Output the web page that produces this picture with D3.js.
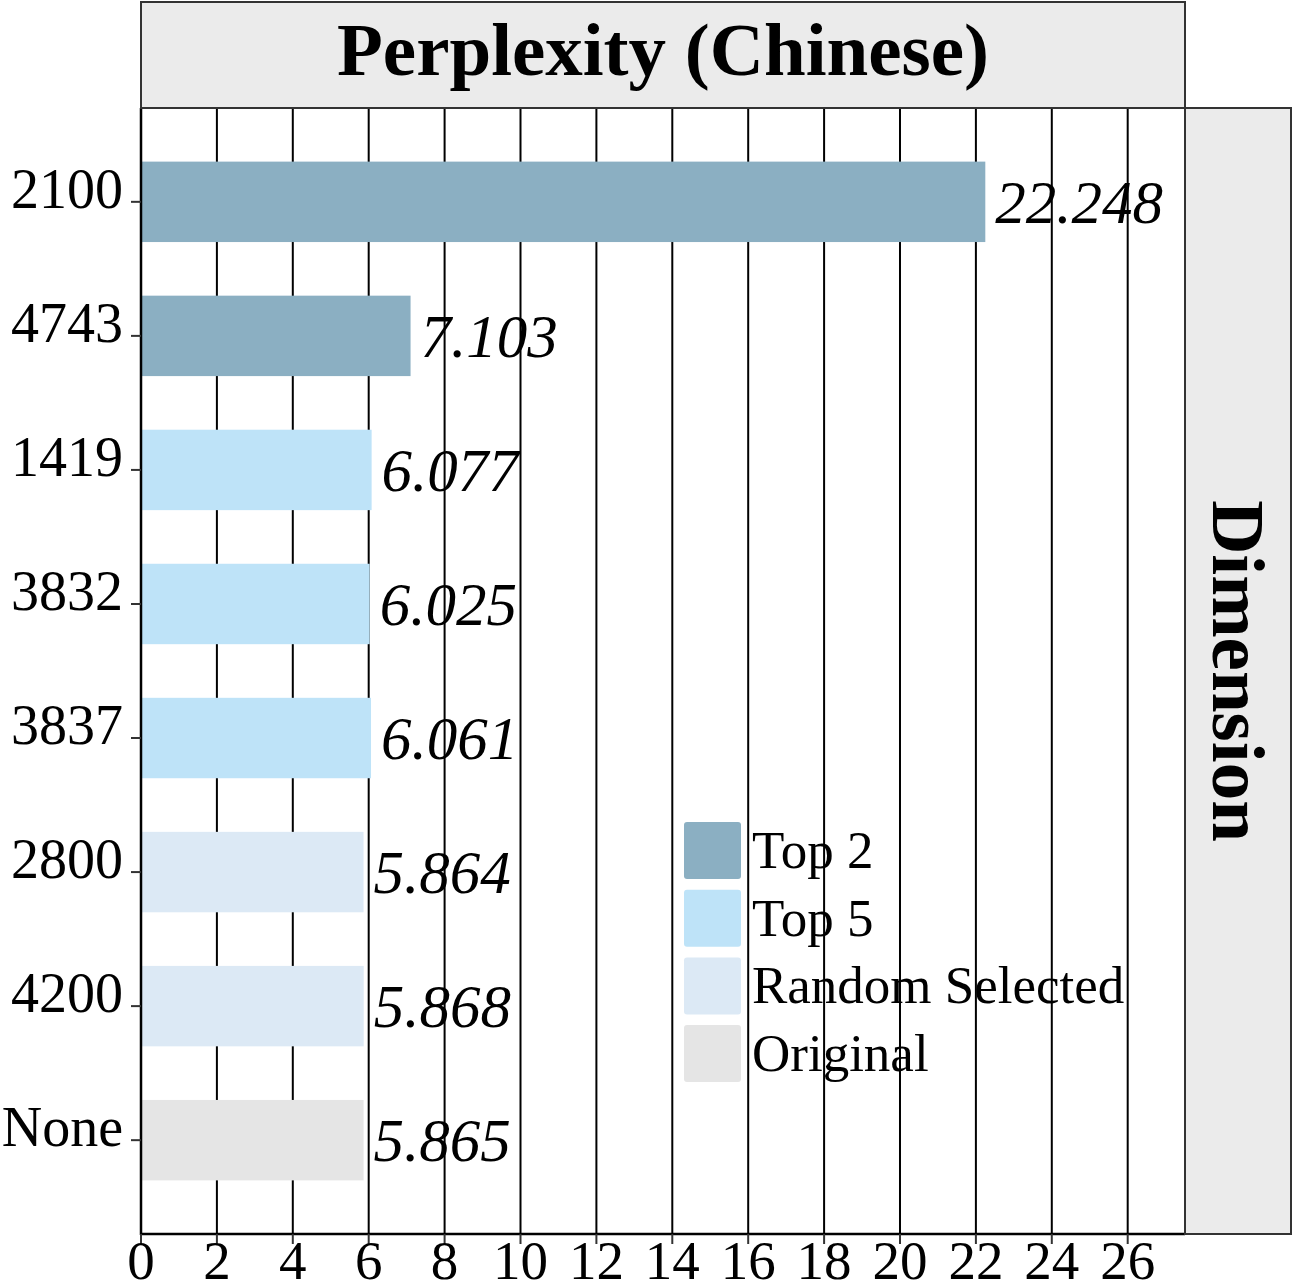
<!DOCTYPE html>
<html>
<head>
<meta charset="utf-8">
<script src="https://cdn.jsdelivr.net/npm/d3@7"></script>
<style>
  html, body { margin: 0; padding: 0; background: #fff; }
  svg { display: block; }
  text { font-family: "Liberation Serif", "Times New Roman", serif; }
</style>
</head>
<body>
<svg id="chart" width="1293" height="1281"></svg>
<script>
// ---- data ----
const categories = ["2100", "4743", "1419", "3832", "3837", "2800", "4200", "None"];
const values = [22.248, 7.103, 6.077, 6.025, 6.061, 5.864, 5.868, 5.865];
const groups = ["Top 2", "Top 2", "Top 5", "Top 5", "Top 5", "Random Selected", "Random Selected", "Original"];
const legendLabels = ["Top 2", "Top 5", "Random Selected", "Original"];
const legendColors = ["#8BAFC2", "#BEE3F8", "#DCE9F5", "#E5E5E5"];
const xTicks = [0, 2, 4, 6, 8, 10, 12, 14, 16, 18, 20, 22, 24, 26];
const title = "Perplexity (Chinese)";
const stripRight = "Dimension";

// ---- layout ----
const svg = d3.select("#chart");
const P = { left: 141, right: 1185, top: 108, bottom: 1234 };

const x = d3.scaleLinear().domain([0, 27.51]).range([P.left, P.right]);
const yIdx = d3.scaleLinear().domain([-0.7, categories.length - 1 + 0.7]).range([P.top, P.bottom]);
const bandH = (yIdx(1) - yIdx(0)) * 0.6;
const color = d3.scaleOrdinal().domain(legendLabels).range(legendColors);

// gridlines
svg.append("g").selectAll("line").data(xTicks.slice(1)).join("line")
  .attr("x1", d => x(d)).attr("x2", d => x(d))
  .attr("y1", P.top).attr("y2", P.bottom)
  .attr("stroke", "#000").attr("stroke-width", 2);

// bars
svg.append("g").selectAll("rect").data(categories).join("rect")
  .attr("x", x(0))
  .attr("y", (d, i) => yIdx(i) - bandH / 2)
  .attr("width", (d, i) => x(values[i]) - x(0))
  .attr("height", bandH)
  .attr("fill", (d, i) => color(groups[i]));

// value labels
svg.append("g").selectAll("text").data(categories).join("text")
  .attr("x", (d, i) => x(values[i]) + 10)
  .attr("y", (d, i) => yIdx(i) + 21)
  .attr("font-size", 61)
  .attr("font-style", "italic")
  .attr("fill", "#000")
  .text((d, i) => values[i].toFixed(3));

// axes lines
svg.append("line").attr("x1", P.left).attr("x2", P.left).attr("y1", P.top).attr("y2", P.bottom + 1)
  .attr("stroke", "#000").attr("stroke-width", 2.5);
svg.append("line").attr("x1", P.left - 1).attr("x2", P.right).attr("y1", P.bottom).attr("y2", P.bottom)
  .attr("stroke", "#000").attr("stroke-width", 2.5);

// y ticks
const yt = svg.append("g");
categories.forEach((c, i) => {
  yt.append("line").attr("x1", P.left - 10).attr("x2", P.left).attr("y1", yIdx(i)).attr("y2", yIdx(i))
    .attr("stroke", "#333").attr("stroke-width", 2);
  yt.append("text").attr("x", P.left - 18).attr("y", yIdx(i) + 6)
    .attr("text-anchor", "end").attr("font-size", 56).attr("fill", "#000").text(c);
});

// x ticks
const xt = svg.append("g");
xTicks.forEach(t => {
  xt.append("line").attr("x1", x(t)).attr("x2", x(t)).attr("y1", P.bottom).attr("y2", P.bottom + 10)
    .attr("stroke", "#333").attr("stroke-width", 2);
  xt.append("text").attr("x", x(t)).attr("y", 1279)
    .attr("text-anchor", "middle").attr("font-size", 55).attr("fill", "#000").text(t);
});

// top strip
svg.append("rect").attr("x", P.left).attr("y", 2).attr("width", P.right - P.left).attr("height", P.top - 2)
  .attr("fill", "#EBEBEB").attr("stroke", "#333").attr("stroke-width", 2);
svg.append("text").attr("x", (P.left + P.right) / 2).attr("y", 75)
  .attr("text-anchor", "middle").attr("font-size", 75).attr("font-weight", "bold").attr("fill", "#000").text(title);

// right strip
svg.append("rect").attr("x", P.right).attr("y", P.top).attr("width", 1291 - P.right).attr("height", P.bottom - P.top)
  .attr("fill", "#EBEBEB").attr("stroke", "#333").attr("stroke-width", 2);
svg.append("text")
  .attr("transform", `translate(${(P.right + 1291) / 2 - 25},${(P.top + P.bottom) / 2}) rotate(90)`)
  .attr("text-anchor", "middle").attr("font-size", 75).attr("font-weight", "bold").attr("fill", "#000").text(stripRight);

// legend
const lg = svg.append("g");
legendLabels.forEach((l, i) => {
  const y0 = 822 + i * 67.7;
  lg.append("rect").attr("x", 684).attr("y", y0).attr("width", 57).attr("height", 57)
    .attr("rx", 3).attr("fill", legendColors[i]);
  lg.append("text").attr("x", 752).attr("y", y0 + 46).attr("font-size", 53).attr("fill", "#000").text(l);
});
</script>
</body>
</html>
